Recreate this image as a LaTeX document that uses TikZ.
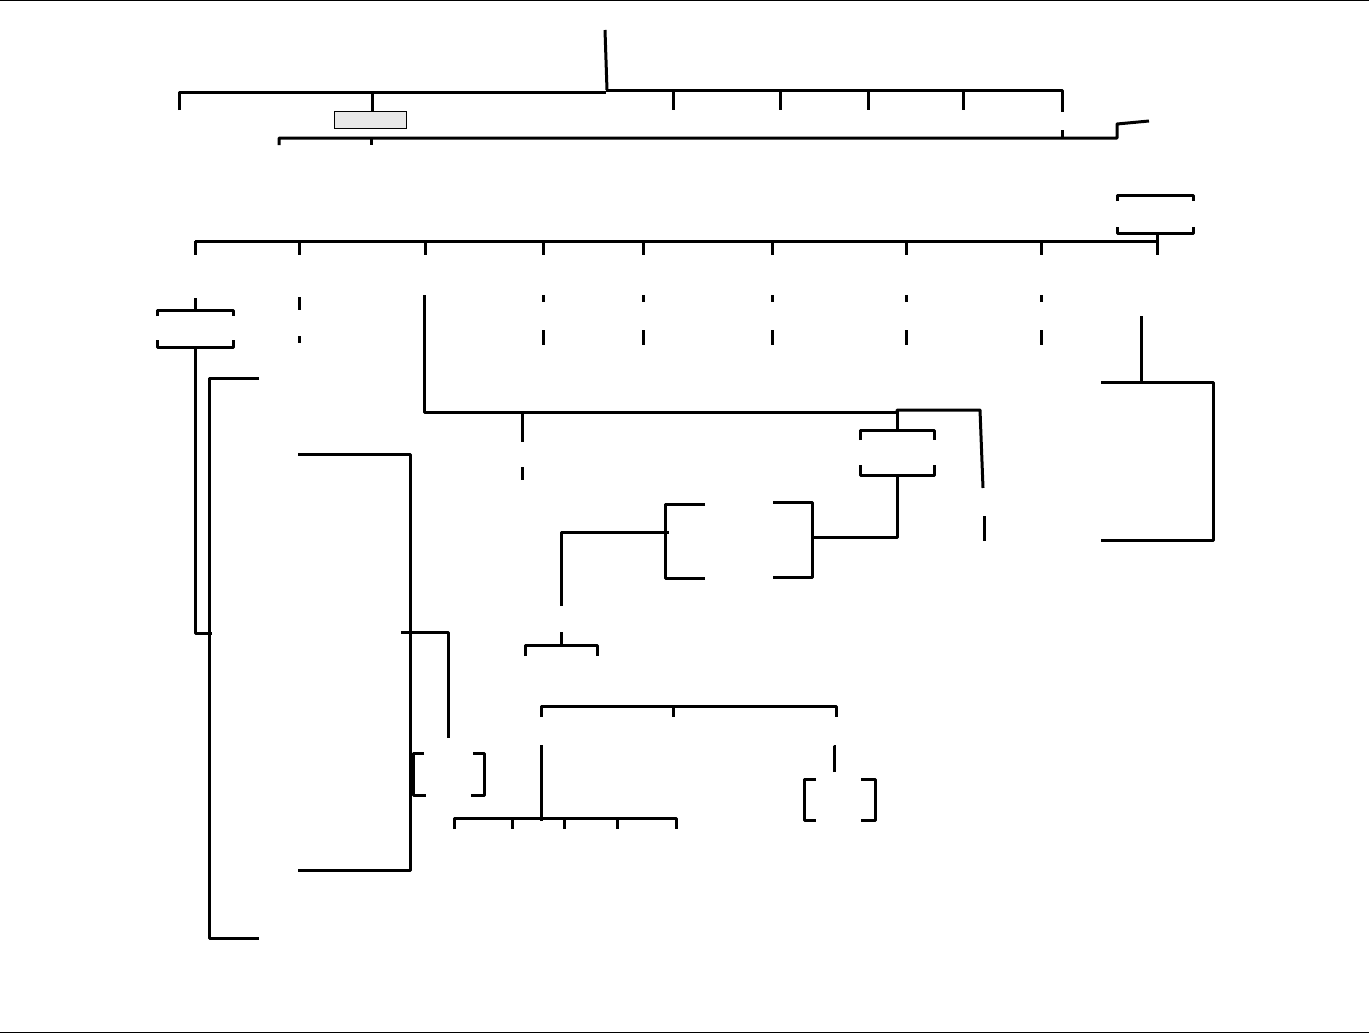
\documentclass[tikz,border=0pt]{standalone}
\begin{document}
\begin{tikzpicture}[x=0.05cm,y=-0.05cm,
  ln/.style={line width=0.15cm,line join=round},
  thin/.style={line width=0.05cm},
  shade/.style={line width=0.05cm,fill=black!9}]
\useasboundingbox (0,0) rectangle (1369,1034);
% frame lines
\draw[thin] (0,1) -- (1369,1);
\draw[thin] (0,1032) -- (1369,1032);
% top tree
\draw[ln] (605,30) -- (607,90);
\draw[ln] (179,110) -- (179,92) -- (606,92);
\draw[ln] (606,90) -- (1062,90) -- (1062,112);
\foreach \x in {673,780,868,963} \draw[ln] (\x,90) -- (\x,110);
\draw[ln] (372,92) -- (372,112);
\draw[shade] (334,111) rectangle (406,128);
% second line
\draw[ln] (279,145) -- (279,138) -- (1117,138) -- (1117,124) -- (1149,121);
\draw[ln] (371,138) -- (371,145);
\draw[ln] (1062,130) -- (1062,138);
% right bracket
\draw[ln] (1117,201) -- (1117,195) -- (1193,195) -- (1193,201);
\draw[ln] (1117,227) -- (1117,233) -- (1193,233) -- (1193,227);
\draw[ln] (1157,233) -- (1157,255);
% main bus
\draw[ln] (195,241) -- (1157,241);
\foreach \x in {195,299,425,543,643,772,906,1041} \draw[ln] (\x,241) -- (\x,255);
% dashes
\draw[ln] (299,297) -- (299,310);
\draw[ln] (299,336) -- (299,343);
\foreach \x in {543,643,772,906,1041} {
  \draw[ln] (\x,295) -- (\x,302);
  \draw[ln] (\x,330) -- (\x,345);
}
% left bracket
\draw[ln] (195,298) -- (195,310);
\draw[ln] (157,316) -- (157,310) -- (233,310) -- (233,316);
\draw[ln] (157,340) -- (157,347) -- (233,347) -- (233,340);
\draw[ln] (195,347) -- (195,633) -- (212,633);
\draw[ln] (259,378) -- (209,378) -- (209,938) -- (259,938);
% middle big bracket
\draw[ln] (298,454) -- (410,454) -- (410,870) -- (298,870);
\draw[ln] (401,632) -- (448,632) -- (448,738);
\draw[ln] (424,753) -- (413,753) -- (413,795) -- (426,795);
\draw[ln] (473,753) -- (484,753) -- (484,795) -- (471,795);
% central tree
\draw[ln] (424,295) -- (424,412) -- (897,412);
\draw[ln] (897,412) -- (897,410) -- (980,410) -- (983,488);
\draw[ln] (984,516) -- (984,541);
\draw[ln] (522,412) -- (522,442);
\draw[ln] (522,467) -- (522,480);
\draw[ln] (897,410) -- (897,430);
\draw[ln] (860,440) -- (860,430) -- (934,430) -- (934,440);
\draw[ln] (860,465) -- (860,475) -- (934,475) -- (934,465);
\draw[ln] (897,475) -- (897,537) -- (812,537);
\draw[ln] (773,502) -- (812,502) -- (812,577) -- (773,577);
\draw[ln] (705,504) -- (665,504) -- (665,578) -- (705,578);
\draw[ln] (561,606) -- (561,532) -- (669,532);
\draw[ln] (561,632) -- (561,644);
\draw[ln] (525,656) -- (525,645) -- (597,645) -- (597,656);
% lower bracket
\draw[ln] (541,717) -- (541,706) -- (836,706) -- (836,717);
\draw[ln] (673,706) -- (673,717);
\draw[ln] (541,745) -- (541,821);
\draw[ln] (454,829) -- (454,818) -- (676,818) -- (676,829);
\foreach \x in {512,564,617} \draw[ln] (\x,818) -- (\x,829);
\draw[ln] (834,772) -- (834,746) -- (836,746);
\draw[ln] (816,779) -- (804,779) -- (804,820) -- (816,820);
\draw[ln] (861,779) -- (875,779) -- (875,820) -- (861,820);
% right side
\draw[ln] (1141,316) -- (1141,382);
\draw[ln] (1101,382) -- (1213,382) -- (1213,540) -- (1101,540);
\end{tikzpicture}
\end{document}
